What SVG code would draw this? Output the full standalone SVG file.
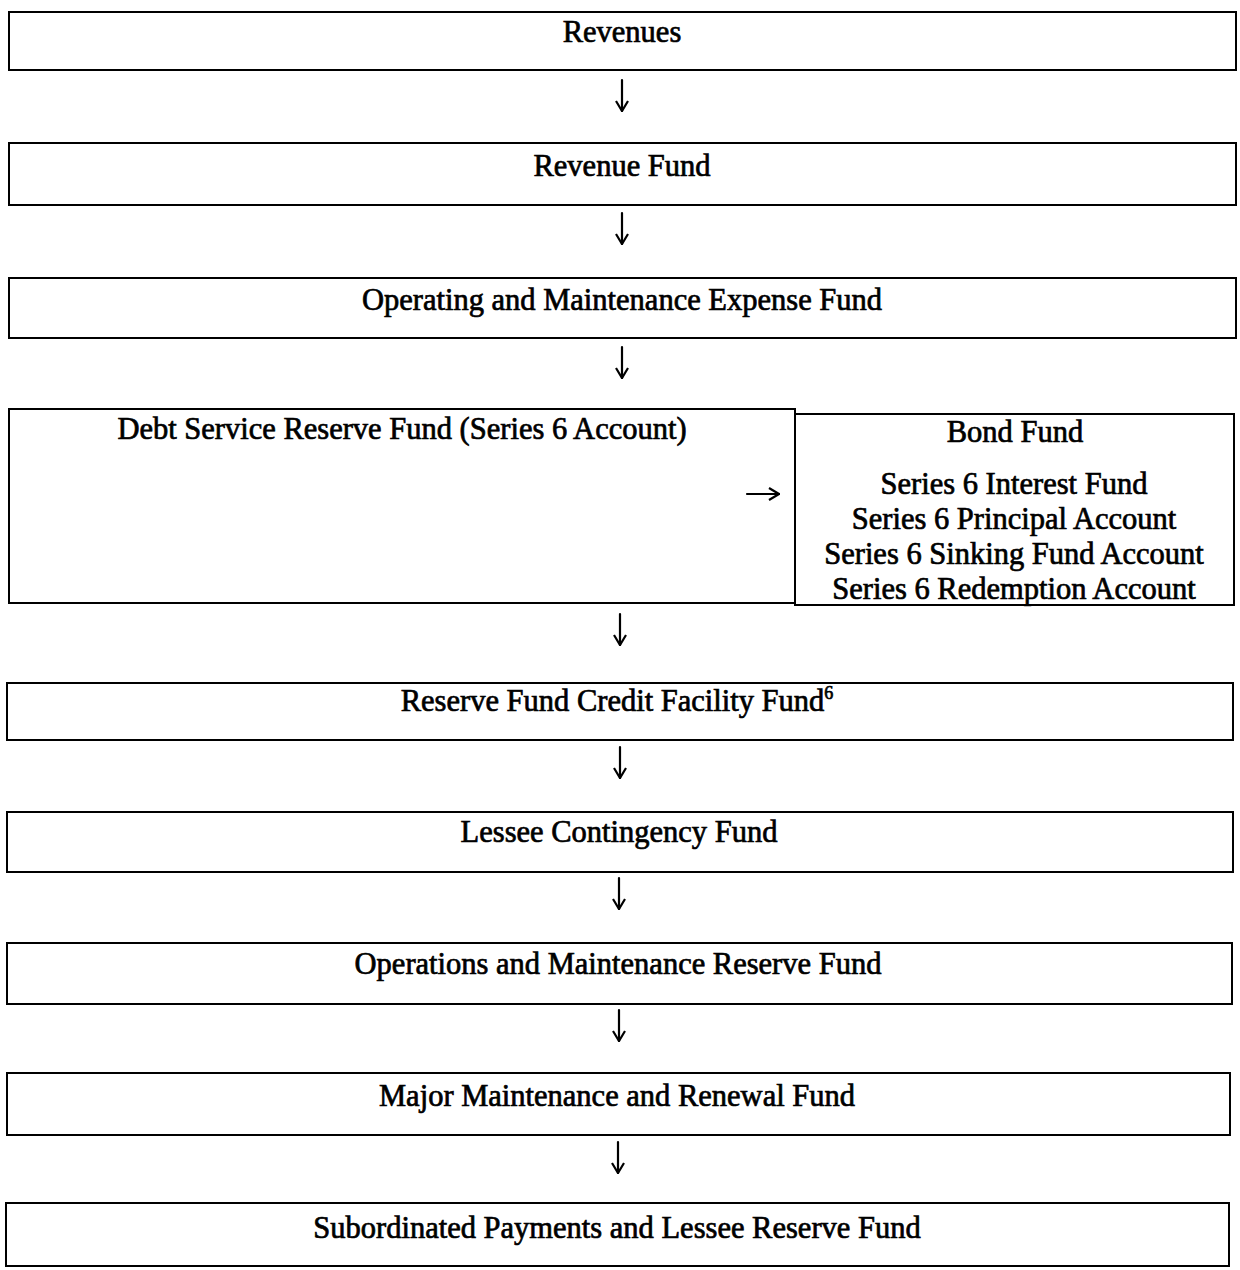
<svg xmlns="http://www.w3.org/2000/svg" width="1240" height="1270" viewBox="0 0 1240 1270">
<style>
.box{fill:#fff;stroke:#000;stroke-width:2}
.t{font-family:"Liberation Serif","Times New Roman",serif;font-size:30.5px;fill:#000;text-anchor:middle;stroke:#000;stroke-width:0.7}
.c{fill:none;stroke:#000;stroke-width:2.2;stroke-linecap:round;stroke-linejoin:round}
</style>
<defs>
<marker id="ah" viewBox="0 0 12 14" refX="11" refY="7" markerWidth="12" markerHeight="14" markerUnits="userSpaceOnUse" orient="auto">
<path d="M1,1 L11,7 L1,13" fill="none" stroke="#000" stroke-width="2.2"/>
</marker>
</defs>
<rect width="1240" height="1270" fill="#fff"/>
<g id="n1"><rect class="box" x="9" y="12" width="1227" height="58"/><text class="t" x="622" y="42">Revenues</text></g>
<g id="n2"><rect class="box" x="9" y="143" width="1227" height="62"/><text class="t" x="622" y="176">Revenue Fund</text></g>
<g id="n3"><rect class="box" x="9" y="278" width="1227" height="60"/><text class="t" x="622" y="310">Operating and Maintenance Expense Fund</text></g>
<g id="n4"><rect class="box" x="9" y="409" width="786" height="194"/><text class="t" x="402" y="439">Debt Service Reserve Fund (Series 6 Account)</text></g>
<g id="n5"><rect class="box" x="795" y="414" width="439" height="191"/>
<text class="t" x="1015" y="442">Bond Fund</text>
<text class="t" x="1014" y="494">Series 6 Interest Fund</text>
<text class="t" x="1014" y="529">Series 6 Principal Account</text>
<text class="t" x="1014" y="564">Series 6 Sinking Fund Account</text>
<text class="t" x="1014" y="599">Series 6 Redemption Account</text></g>
<g id="n6"><rect class="box" x="7" y="683" width="1226" height="57"/><text class="t" x="617" y="711">Reserve Fund Credit Facility Fund<tspan font-size="18" dy="-12">6</tspan></text></g>
<g id="n7"><rect class="box" x="7" y="812" width="1226" height="60"/><text class="t" x="619" y="842">Lessee Contingency Fund</text></g>
<g id="n8"><rect class="box" x="7" y="943" width="1225" height="61"/><text class="t" x="618" y="974">Operations and Maintenance Reserve Fund</text></g>
<g id="n9"><rect class="box" x="7" y="1073" width="1223" height="62"/><text class="t" x="617" y="1106">Major Maintenance and Renewal Fund</text></g>
<g id="n10"><rect class="box" x="6" y="1203" width="1223" height="63"/><text class="t" x="617" y="1238">Subordinated Payments and Lessee Reserve Fund</text></g>
<g id="connectors">
<path class="c" d="M622,80 V111" marker-end="url(#ah)"/>
<path class="c" d="M622,213 V244" marker-end="url(#ah)"/>
<path class="c" d="M622,347 V378" marker-end="url(#ah)"/>
<path class="c" d="M747,494 H779" marker-end="url(#ah)"/>
<path class="c" d="M620,614 V645" marker-end="url(#ah)"/>
<path class="c" d="M620,747 V778" marker-end="url(#ah)"/>
<path class="c" d="M619,878 V909" marker-end="url(#ah)"/>
<path class="c" d="M619,1010 V1041" marker-end="url(#ah)"/>
<path class="c" d="M618,1142 V1173" marker-end="url(#ah)"/>
</g>
</svg>
